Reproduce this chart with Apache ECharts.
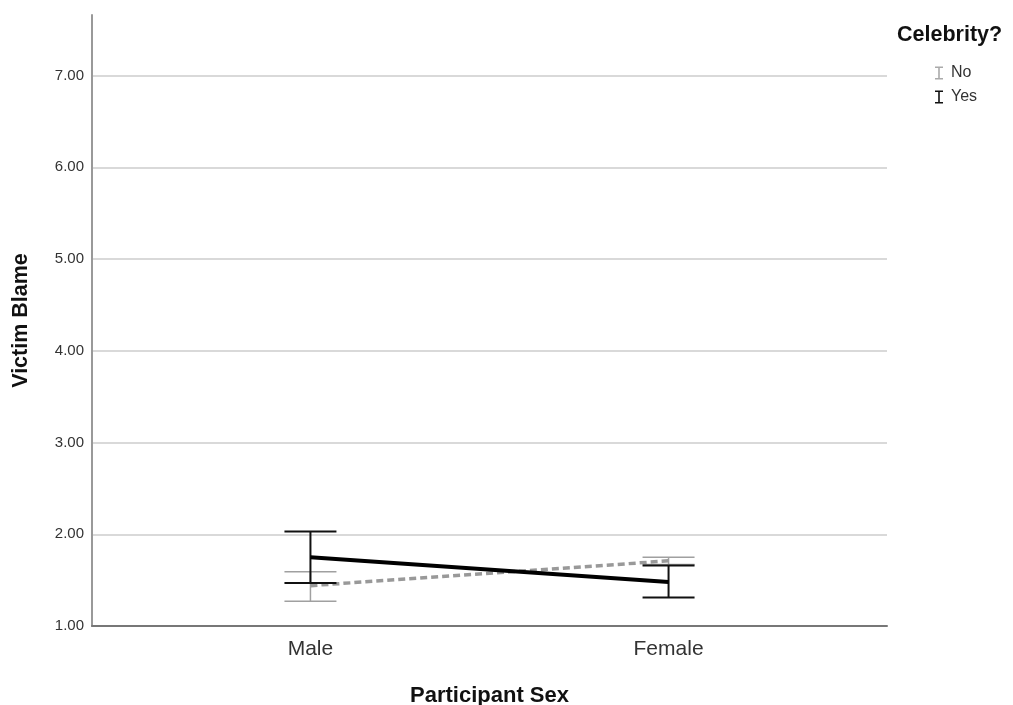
<!DOCTYPE html>
<html>
<head>
<meta charset="utf-8">
<script src="https://cdn.jsdelivr.net/npm/echarts@6/dist/echarts.min.js"></script>
<style>
  html, body { margin: 0; padding: 0; background: #fff; }
  #chart { width: 1013px; height: 705px; }
</style>
</head>
<body>
<div id="chart"></div>
<script>
// categories on x (placed at 0 and 1 on a value axis)
var categories = ['Male', 'Female'];
var catPos = [0, 1];

// Celebrity? = No
var noMeans = [1.44, 1.71];
var noLower = [1.27, 1.67];
var noUpper = [1.59, 1.75];

// Celebrity? = Yes
var yesMeans = [1.75, 1.48];
var yesLower = [1.47, 1.31];
var yesUpper = [2.03, 1.66];

var yMin = 1, yMax = 7.66, yStep = 1;

var FONT = 'Liberation Sans, Arial, sans-serif';

function pairs(vals) {
    return catPos.map(function (x, i) { return [x, vals[i]]; });
}

function bars(lo, hi) {
    return catPos.map(function (x, i) { return [x, lo[i], hi[i]]; });
}

// error bar: vertical line + two caps
function errorBar(color, width) {
    return function (params, api) {
        var top = api.coord([api.value(0), api.value(2)]);
        var bot = api.coord([api.value(0), api.value(1)]);
        var hw = 26;
        var style = { stroke: color, lineWidth: width };
        return {
            type: 'group',
            children: [
                { type: 'line', shape: { x1: top[0], y1: top[1], x2: bot[0], y2: bot[1] }, style: style },
                { type: 'line', shape: { x1: top[0] - hw, y1: top[1], x2: top[0] + hw, y2: top[1] }, style: style },
                { type: 'line', shape: { x1: bot[0] - hw, y1: bot[1], x2: bot[0] + hw, y2: bot[1] }, style: style }
            ]
        };
    };
}

var chart = echarts.init(document.getElementById('chart'));

var iBeam = 'path://M0,0 L8,0 L8,1.6 L4.8,1.6 L4.8,11.4 L8,11.4 L8,13 L0,13 L0,11.4 L3.2,11.4 L3.2,1.6 L0,1.6 Z';

chart.setOption({
    animation: false,
    backgroundColor: '#fff',
    title: {
        text: 'Celebrity?',
        left: 892,
        top: 19,
        textStyle: { fontFamily: FONT, fontSize: 21.5, fontWeight: 'bold', color: '#111' }
    },
    legend: {
        data: ['No', 'Yes'],
        orient: 'vertical',
        left: 930,
        top: 60,
        itemGap: 8,
        itemWidth: 8,
        itemHeight: 13,
        icon: iBeam,
        textStyle: { fontFamily: FONT, fontSize: 16, lineHeight: 16, color: '#333', padding: [0, 0, 0, 3] }
    },
    grid: { left: 92, top: 15, right: 126, bottom: 79, outerBoundsMode: 'none' },
    xAxis: {
        type: 'value',
        min: -0.61,
        max: 1.61,
        name: 'Participant Sex',
        nameLocation: 'middle',
        nameGap: 59,
        nameTextStyle: { fontFamily: FONT, fontSize: 22, fontWeight: 'bold', color: '#111' },
        axisLine: { show: true, onZero: false, lineStyle: { color: '#777', width: 2 } },
        axisTick: { show: false },
        splitLine: { show: false },
        axisLabel: {
            customValues: catPos,
            margin: 13,
            fontFamily: FONT,
            fontSize: 21,
            color: '#333',
            formatter: function (v) { return categories[Math.round(v)]; }
        }
    },
    yAxis: {
        type: 'value',
        min: yMin,
        max: yMax,
        interval: yStep,
        name: 'Victim Blame',
        nameLocation: 'middle',
        nameGap: 60,
        nameTextStyle: { fontFamily: FONT, fontSize: 21.5, fontWeight: 'bold', color: '#111' },
        axisLine: { show: true, onZero: false, lineStyle: { color: '#999', width: 2 } },
        axisTick: { show: false },
        axisLabel: {
            margin: 8,
            fontFamily: FONT,
            fontSize: 15,
            color: '#333',
            showMaxLabel: false,
            formatter: function (v) { return v.toFixed(2); }
        },
        splitLine: {
            show: true,
            showMinLine: false,
            showMaxLine: false,
            lineStyle: { color: '#cccccc', width: 1.5 }
        }
    },
    series: [
        {
            name: 'No',
            type: 'line',
            data: pairs(noMeans),
            symbol: 'none',
            itemStyle: { color: '#aaaaaa' },
            lineStyle: { color: '#999', width: 3.5, type: [7, 4] },
            z: 3
        },
        {
            name: 'Yes',
            type: 'line',
            data: pairs(yesMeans),
            symbol: 'none',
            itemStyle: { color: '#111' },
            lineStyle: { color: '#000', width: 4 },
            z: 5
        },
        {
            name: 'No',
            type: 'custom',
            data: bars(noLower, noUpper),
            renderItem: errorBar('#a0a0a0', 1.5),
            encode: { x: 0, y: [1, 2] },
            z: 2
        },
        {
            name: 'Yes',
            type: 'custom',
            data: bars(yesLower, yesUpper),
            renderItem: errorBar('#111', 2),
            encode: { x: 0, y: [1, 2] },
            z: 4
        }
    ]
});
</script>
</body>
</html>
